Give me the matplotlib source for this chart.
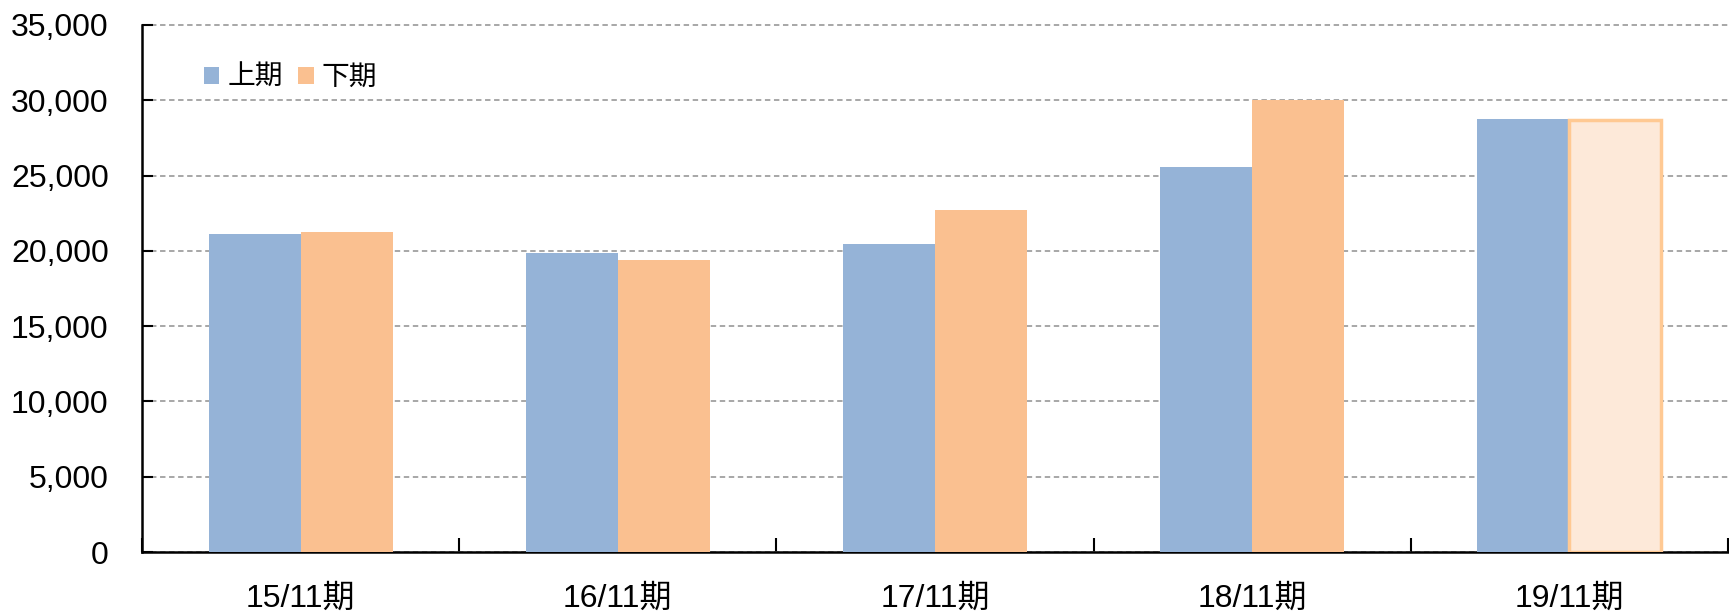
import matplotlib
matplotlib.use("Agg")
import matplotlib.pyplot as plt
import numpy as np

plt.rcParams['font.family'] = ['Liberation Sans', 'Noto Sans CJK JP', 'DejaVu Sans']

categories = ["15/11期", "16/11期", "17/11期", "18/11期", "19/11期"]
first_half = [21100, 19850, 20450, 25600, 28750]
second_half = [21250, 19400, 22700, 30000, 28700]
series_names = ["上期", "下期"]
yticks = [0, 5000, 10000, 15000, 20000, 25000, 30000, 35000]

blue = "#95B3D7"
orange = "#FAC090"
light_orange = "#FDE9D9"

W, H = 1729, 615
left_px, right_px, top_px, bottom_px = 142, 1728, 25, 552
unit_px = 318.6

fig = plt.figure(figsize=(W/100, H/100), dpi=100)
ax = fig.add_axes([left_px/W, (H-bottom_px)/H, (right_px-left_px)/W, (bottom_px-top_px)/H])

x = np.arange(len(categories))
w = 0.29
ax.bar(x - w/2, first_half, width=w, color=blue, label=series_names[0], zorder=3)
fills = [orange]*(len(categories)-1) + [light_orange]
bars2 = ax.bar(x + w/2, second_half, width=w, color=fills, zorder=3)
bars2[-1].set_edgecolor("#FFC993")
bars2[-1].set_linewidth(2.5)
# legend proxy
ax.bar([np.nan], [np.nan], color=orange, label=series_names[1])

ax.set_ylim(0, 35000)
ax.set_xlim(-0.5, -0.5 + (right_px-left_px)/unit_px)
ax.set_yticks(yticks)
ax.set_yticklabels([f"{v:,}" for v in yticks])
ax.yaxis.grid(True, linestyle=(0, (3, 2)), color="#A0A0A0", linewidth=1.3, zorder=0)
for gl in ax.get_ygridlines():
    gl.set_clip_on(False)
ax.set_axisbelow(True)

ax.set_xticks(np.arange(len(categories)+1) - 0.5)
ax.set_xticklabels([])
ax.set_xticks(x, minor=True)
ax.set_xticklabels(categories, minor=True)
ax.tick_params(axis='x', which='major', direction='in', length=10, width=1.5)
ax.tick_params(axis='x', which='minor', length=0, pad=23, labelsize=23)
ax.tick_params(axis='y', direction='in', length=8, width=1.5, pad=24, labelsize=23)

for s in ['top', 'right']:
    ax.spines[s].set_visible(False)
for s in ['left', 'bottom']:
    ax.spines[s].set_linewidth(1.8)
    ax.spines[s].set_color('black')

ax.legend(loc='upper left', bbox_to_anchor=(0.032, 0.945), frameon=False, ncol=2,
          fontsize=20, handlelength=0.55, handleheight=0.55, handletextpad=0.3,
          columnspacing=0.55, borderaxespad=0)

fig.savefig("out.png", dpi=100)
